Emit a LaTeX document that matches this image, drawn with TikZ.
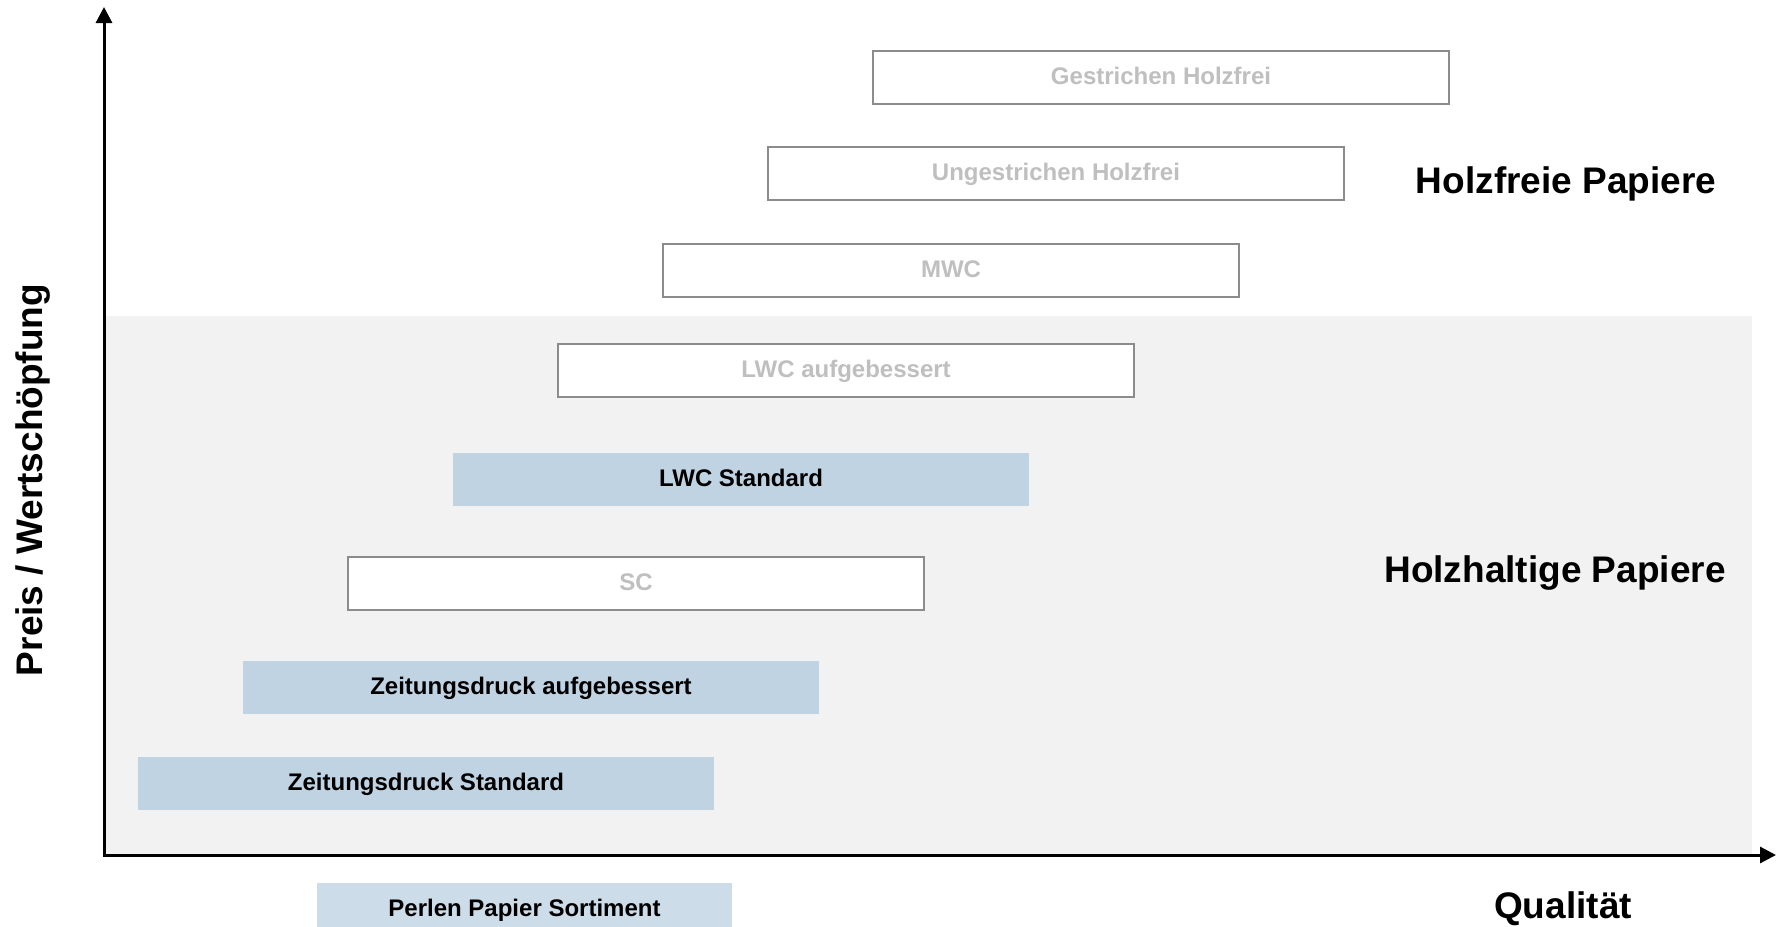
\documentclass[tikz,border=0pt]{standalone}
\usepackage{fontspec}
\setmainfont{Liberation Sans}
\usetikzlibrary{arrows.meta}
\definecolor{bgray}{HTML}{F2F2F2}
\definecolor{bblue}{HTML}{C0D3E2}
\definecolor{pblue}{HTML}{CCDCE8}
\definecolor{tgray}{HTML}{BFBFBF}
\definecolor{lgray}{HTML}{8C8C8C}
\begin{document}
\begin{tikzpicture}[x=1pt,y=-1pt,
  boxtxt/.style={font=\bfseries\fontsize{24}{28}\selectfont, inner sep=0pt, outer sep=0pt,
    text height=17pt, text depth=4pt, minimum height=53pt, anchor=north west},
  openbox/.style={boxtxt, draw=lgray, line width=1.5pt, fill=white, text=tgray, minimum width=576pt},
  bluebox/.style={boxtxt, fill=bblue, text=black, minimum width=576pt},
  head/.style={font=\bfseries\fontsize{37}{44}\selectfont, inner sep=0pt}
]
\useasboundingbox (0,0) rectangle (1785,926);
\fill[bgray] (106,316) rectangle (1752,855);

\node[openbox] (gh) at (873,51) {Gestrichen Holzfrei};
\node[openbox] (uh) at (768,147) {Ungestrichen Holzfrei};
\node[openbox] (mwc) at (663,244) {MWC};
\node[openbox] (lwca) at (558,344) {LWC aufgebessert};
\node[bluebox] (lwcs) at (453,453) {LWC Standard};
\node[openbox] (sc) at (348,557) {SC};
\node[bluebox] (za) at (243,661) {Zeitungsdruck aufgebessert};
\node[bluebox] (zs) at (138,757) {Zeitungsdruck Standard};
\node[boxtxt, fill=pblue, minimum width=415pt] (pps) at (317,883) {Perlen Papier Sortiment};

\coordinate (o) at (104,855);
\coordinate (ytop) at (104,7);
\coordinate (xend) at (1776,855);
\draw[line width=3pt, {Triangle[length=16pt,width=16pt]}-{Triangle[length=16pt,width=16pt]}] (ytop) -- (o) -- (xend);

\node[head, anchor=base] (hf) at (1566,193) {Holzfreie Papiere};
\node[head, anchor=base] (hh) at (1555,582) {Holzhaltige Papiere};
\node[head, anchor=base] (q) at (1563,918) {Qualität};
\node[head, rotate=90, anchor=base] (yl) at (42,480) {Preis / Wertschöpfung};
\end{tikzpicture}
\end{document}
